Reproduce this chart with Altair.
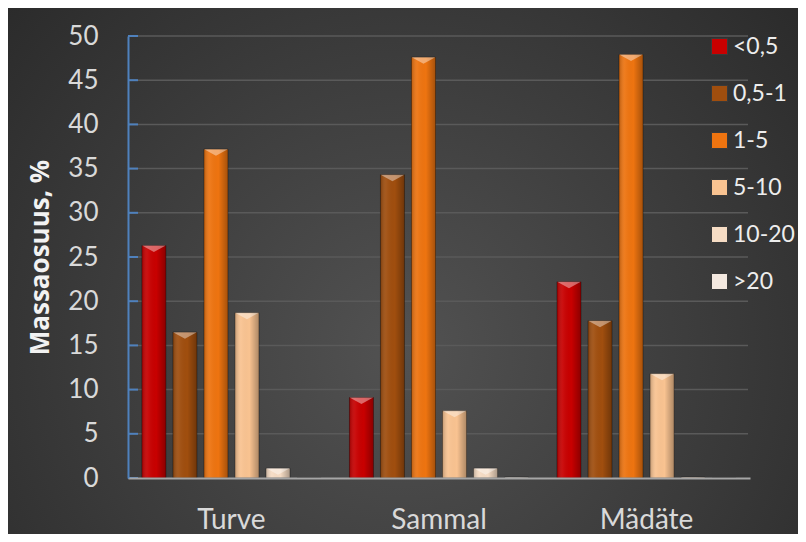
import altair as alt
import pandas as pd

categories = ["Turve", "Sammal", "Mädäte"]
series = ["<0,5", "0,5-1", "1-5", "5-10", "10-20", ">20"]
colors = ["#C80000", "#A04E0E", "#EE7410", "#F9C391", "#F6DCC4", "#F4E9E0"]
values = {
    "Turve":  [26.3, 16.5, 37.2, 18.7, 1.1, 0.0],
    "Sammal": [9.1, 34.3, 47.6, 7.6, 1.1, 0.1],
    "Mädäte": [22.2, 17.8, 47.9, 11.8, 0.1, 0.0],
}
y_ticks = [0, 5, 10, 15, 20, 25, 30, 35, 40, 45, 50]

rows = []
for c in categories:
    for s, v in zip(series, values[c]):
        rows.append({"cat": c, "series": s, "val": v})
df = pd.DataFrame(rows)

FONT = "Lato"
W, H = 622, 442
PL, PT, PR, PB = 120, 28, 48, 56

x_enc = alt.X("cat:N", sort=categories,
              scale=alt.Scale(paddingInner=0.103, paddingOuter=0.05),
              axis=alt.Axis(title=None, labelAngle=0, labelFontSize=28, labelColor="#D9D9D9",
                            labelFont=FONT, labelPadding=28, ticks=False,
                            domainColor="#A6A6A6", domainWidth=2, grid=False, zindex=1))
xo_enc = alt.XOffset("series:N", sort=series,
                     scale=alt.Scale(paddingInner=0.226, paddingOuter=0.113))
y_scale = alt.Scale(domain=[0, 50], nice=False)
y_enc = alt.Y("val:Q", scale=y_scale,
              axis=alt.Axis(title="Massaosuus, %", values=y_ticks, labelFontSize=26,
                            labelColor="#D9D9D9", labelFont=FONT, labelPadding=30,
                            tickSize=0, domainColor="#4F81BD", domainWidth=2, grid=False,
                            titleFont="Open Sans", titleFontSize=26, titleFontWeight="bold",
                            titleColor="#F2F2F2", titlePadding=14, zindex=1))

bg = alt.Chart(pd.DataFrame({"a": [0]})).mark_rect(
    fill={"gradient": "radial", "x1": 0.5, "y1": 0.6, "r1": 0, "x2": 0.5, "y2": 0.6, "r2": 0.75,
          "stops": [{"offset": 0, "color": "#525252"}, {"offset": 1, "color": "#262626"}]}
).encode(x=alt.value(-PL), x2=alt.value(W + PR), y=alt.value(-PT), y2=alt.value(H + PB))

grid = alt.Chart(pd.DataFrame({"t": y_ticks[1:]})).mark_rule(color="#5A5A5A", strokeWidth=1.5).encode(
    y=alt.Y("t:Q", scale=y_scale), x=alt.value(0), x2=alt.value(W - 2))

bars = alt.Chart(df).mark_bar(stroke="#000000", strokeOpacity=0.35, strokeWidth=1).encode(
    x=x_enc, xOffset=xo_enc, y=y_enc,
    color=alt.Color("series:N", sort=series,
                    scale=alt.Scale(domain=series, range=colors),
                    legend=alt.Legend(title=None, orient="none", legendX=580, legendY=-1,
                                      padding=0, symbolType="square", symbolSize=256,
                                      symbolStrokeColor="#3a3a3a", symbolStrokeWidth=1,
                                      labelFontSize=23, labelColor="#EDEDED", labelFont=FONT,
                                      labelOffset=2, rowPadding=23, labelLimit=200)),
)

shade = alt.Chart(df).mark_bar(
    fill={"gradient": "linear", "x1": 0, "y1": 0, "x2": 1, "y2": 0,
          "stops": [{"offset": 0, "color": "rgba(0,0,0,0.22)"},
                    {"offset": 0.25, "color": "rgba(255,255,255,0.06)"},
                    {"offset": 0.6, "color": "rgba(0,0,0,0)"},
                    {"offset": 1, "color": "rgba(0,0,0,0.3)"}]}
).encode(x=x_enc, xOffset=xo_enc, y=y_enc)

tops = alt.Chart(df).transform_filter("datum.val > 0.5").mark_point(
    shape="M-1,0L1,0L0,0.55Z", size=560, filled=True, fill="#FFFFFF", opacity=0.4,
    strokeWidth=0
).encode(x=x_enc, xOffset=xo_enc, y=alt.Y("val:Q", scale=y_scale))

ticks = alt.Chart(pd.DataFrame({"t": y_ticks})).mark_rule(color="#4F81BD", strokeWidth=2).encode(
    y=alt.Y("t:Q", scale=y_scale), x=alt.value(0), x2=alt.value(10))

chart = alt.layer(bg, grid, bars, shade, tops, ticks).properties(
    width=W, height=H,
    autosize=alt.AutoSizeParams(type="none"),
    padding={"left": PL, "top": PT, "right": PR, "bottom": PB},
    background="#333333",
).configure_view(stroke=None).configure_axis(labelFont=FONT)

chart.save("out.html", embed_options={"renderer": "svg", "actions": False})
